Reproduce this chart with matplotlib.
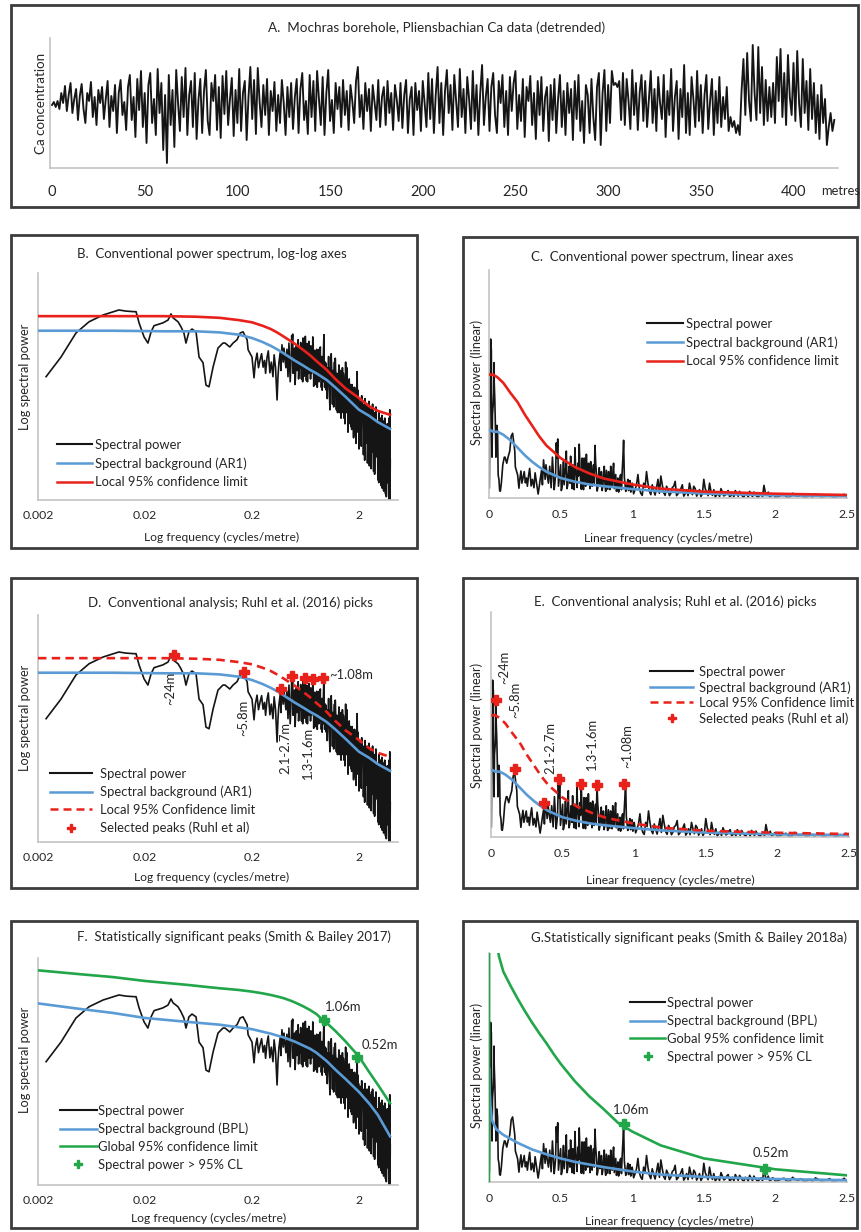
import numpy as np
import matplotlib
matplotlib.use('Agg')
import matplotlib.pyplot as plt
from matplotlib.patches import Rectangle
from matplotlib.lines import Line2D
from matplotlib.ticker import NullLocator

plt.rcParams['font.family'] = ['Lato', 'DejaVu Sans']

# ---------------- DATA ----------------
# Panel A: detrended Ca concentration (arbitrary units), sampled every 1 m
ca_step_m = 1.0
ca_values = [
    0.0, 0.3, -0.2, 0.4, -0.4, 1.2, 0.2, 1.9, -0.6, 1.0,
    2.2, -0.8, 0.6, 1.6, -1.5, 0.9, 2.1, -0.4, -1.8, 1.2,
    0.4, 2.3, -1.2, 0.8, -2.0, 1.5, 0.2, 1.8, -1.4, 0.6,
    2.4, -2.2, 0.9, -0.6, 2.0, -2.8, 1.2, 2.5, -1.0, 0.3,
    -2.5, 1.8, 3.0, -1.5, 0.8, -3.2, 2.6, -0.5, 3.4, -2.2,
    1.2, -3.8, 2.0, 3.2, -1.8, 0.6, -3.0, 3.6, -0.8, 2.2,
    -4.5, 1.0, -5.8, 3.0, -2.0, 1.5, -4.2, 3.5, 0.2, -2.6,
    2.8, -1.2, 3.7, -3.0, 1.0, 2.4, -2.2, 3.2, -3.4, 0.5,
    2.6, -2.8, 1.4, 3.5, -1.6, -3.0, 2.2, 0.4, 3.0, -2.5,
    1.8, -3.3, 2.9, -0.9, 3.4, -2.0, 0.6, 2.7, -3.1, 1.5,
    -1.8, 3.6, -2.6, 1.2, 2.4, -3.5, 0.8, 3.8, -1.4, 2.5,
    -2.9, 3.7, 0.3, -2.2, 2.0, -1.0, 2.6, -3.0, 1.4, -0.6,
    2.3, -2.6, 1.0, -1.8, 2.5, 0.2, -3.0, 1.8, -1.2, 2.2,
    -2.4, 0.8, 2.6, -2.8, 1.6, 3.2, -1.5, 0.4, -2.9, 3.0,
    -1.2, 2.4, -2.6, 3.4, 0.6, -2.0, 2.8, -3.0, 1.2, 3.5,
    -1.6, 0.5, -2.8, 2.2, -0.4, 1.8, -2.2, 2.5, -1.0, 1.4,
    -2.5, 2.0, 0.4, -1.8, 2.4, 3.8, -1.2, 1.0, -2.4, 2.2,
    -0.6, 1.6, -2.6, 2.0, 0.2, -1.5, 2.5, -2.2, 0.8, 1.8,
    -2.0, 2.4, -0.8, 1.2, -2.5, 2.0, 0.5, -1.6, 2.2, -2.3,
    1.0, 2.5, -2.8, 0.6, 1.8, -3.0, 2.2, -0.5, 1.4, -2.6,
    2.4, 0.2, -2.2, 3.2, -1.4, 2.6, -2.8, 1.0, 3.8, -1.8,
    2.2, -3.0, 1.4, 3.5, -0.8, 2.0, -2.5, 3.0, 0.4, -2.2,
    3.6, -1.2, 1.6, -2.8, 2.8, 0.6, -2.4, 3.4, -1.6, 2.0,
    -3.0, 1.2, 4.0, -2.0, 0.8, 2.6, -2.6, 1.8, 3.2, -1.0,
    -2.8, 2.4, 0.2, 3.0, -2.2, 1.4, -3.0, 2.8, -0.6, 2.2,
    3.4, -2.4, 1.0, -1.6, 2.6, -3.2, 1.8, 0.4, 2.9, -2.0,
    1.2, -3.4, 2.4, -1.0, 2.8, -2.6, 0.8, 1.8, -3.6, 2.0,
    -1.5, 2.6, -2.8, 0.6, 3.0, -2.2, 1.4, -3.0, 2.2, -0.8,
    1.6, -3.5, 2.4, -1.4, 3.0, -2.6, 0.4, -3.8, 2.0, 1.0,
    -2.8, 2.6, -1.2, -3.5, 1.8, 3.2, -4.0, 1.2, 3.5, -2.6,
    2.0, -1.8, 3.4, 2.0, 2.2, 1.8, 2.4, -1.5, 3.2, -2.0,
    2.6, 0.4, -2.4, 3.5, -1.0, 2.2, -2.5, 1.2, 3.0, -1.6,
    2.4, -2.2, 0.6, 3.4, -1.8, 1.6, -2.6, 2.8, 0.2, -1.4,
    3.0, -3.2, 1.4, -1.0, 3.6, -2.6, 0.8, 2.4, -3.4, 1.6,
    -1.2, 4.0, -2.8, 1.2, -3.0, 2.8, 0.6, -2.2, 3.4, -1.6,
    2.0, -2.8, 1.0, 3.0, -2.4, 0.4, 2.6, -3.0, 1.4, -1.8,
    2.8, -2.2, 0.8, -1.4, 1.8, -2.6, -1.2, -2.2, -1.6, -2.8,
    -2.0, -3.0, 1.5, 4.6, -1.0, 5.2, 0.4, -1.6, 6.0, 1.2,
    -1.5, 5.8, -0.8, 3.8, -2.0, 2.5, -1.6, 1.8, -1.2, 2.2,
    -1.8, 4.8, 0.4, 5.6, -1.2, 3.2, -2.0, 5.0, 0.8, -1.0,
    4.2, -1.6, 5.4, 0.2, -2.2, 4.6, -0.8, 2.4, -2.5, 3.6,
    -1.4, 2.2, -2.8, 1.0, -3.4, 2.0, -1.8, 0.6, -4.0, -2.2,
    -0.8, -2.6, -1.5]

# Spectrum: frequency (cycles/metre) and log10 spectral power (relative)
spec_freq = [
    0.00238, 0.00328, 0.00453, 0.0060, 0.0081, 0.0114, 0.0133, 0.0158, 0.0165, 0.0176,
    0.0196, 0.0213, 0.0228, 0.0243, 0.0294, 0.0328, 0.0350, 0.0366, 0.0407, 0.0434,
    0.0462, 0.0483, 0.0515, 0.0550, 0.0600, 0.0640, 0.0697, 0.0743, 0.0793, 0.0865,
    0.0962, 0.107, 0.112, 0.124, 0.133, 0.145, 0.155, 0.165, 0.180, 0.184,
    0.200, 0.209, 0.215, 0.223, 0.230, 0.238, 0.246, 0.254, 0.262, 0.268,
    0.276, 0.284, 0.294, 0.303, 0.314, 0.322, 0.332, 0.343, 0.350, 0.357,
    0.367, 0.373, 0.381, 0.392, 0.398, 0.406, 0.415, 0.424, 0.434, 0.443,
    0.46, 0.47, 0.48, 0.49, 0.50, 0.51, 0.52, 0.53, 0.54, 0.55,
    0.56, 0.57, 0.58, 0.59, 0.60, 0.61, 0.62, 0.63, 0.64, 0.65,
    0.66, 0.67, 0.68, 0.69, 0.70, 0.71, 0.72, 0.73, 0.74, 0.75,
    0.76, 0.77, 0.78, 0.79, 0.80, 0.81, 0.82, 0.83, 0.84, 0.85,
    0.86, 0.87, 0.88, 0.89, 0.90, 0.91, 0.92, 0.93, 0.94, 0.95,
    0.96, 0.97, 0.98, 0.99, 1.00,
    1.02, 1.04, 1.06, 1.08, 1.10, 1.12, 1.14, 1.16, 1.18, 1.20,
    1.22, 1.24, 1.26, 1.28, 1.30, 1.32, 1.34, 1.36, 1.38, 1.40,
    1.42, 1.44, 1.46, 1.48, 1.50, 1.52, 1.54, 1.56, 1.58, 1.60,
    1.62, 1.64, 1.66, 1.68, 1.70, 1.72, 1.74, 1.76, 1.78, 1.80,
    1.82, 1.84, 1.86, 1.88, 1.90, 1.92, 1.94, 1.96, 1.98, 2.00,
    2.04, 2.08, 2.12, 2.16, 2.20, 2.24, 2.28, 2.32, 2.36, 2.40,
    2.44, 2.48, 2.52, 2.56, 2.60, 2.64, 2.68, 2.72, 2.76, 2.80,
    2.84, 2.88, 2.92, 2.96, 3.00, 3.04, 3.08, 3.12, 3.16, 3.20,
    3.24, 3.28, 3.32, 3.36, 3.40, 3.44, 3.48, 3.52, 3.56, 3.60,
    3.64, 3.68, 3.72, 3.76, 3.80, 3.84, 3.88, 3.92]
spec_logp = [
    -1.21, -0.86, -0.43, -0.23, -0.11, -0.02, -0.04, -0.05, -0.05, -0.25,
    -0.50, -0.61, -0.41, -0.30, -0.25, -0.20, -0.09, -0.16, -0.23, -0.32,
    -0.43, -0.61, -0.41, -0.36, -0.41, -0.86, -0.96, -1.36, -1.39, -1.04,
    -0.70, -0.61, -0.61, -0.68, -0.61, -0.55, -0.43, -0.41, -0.55, -0.73,
    -0.86, -1.23, -0.95, -0.79, -1.05, -0.91, -0.80, -1.04, -0.92, -1.15,
    -0.875, -0.75, -1.14, -0.95, -1.21, -0.82, -1.05, -1.625, -1.20, -0.96,
    -0.78, -1.10, -0.64, -0.95, -0.70, -0.86, -1.05, -0.72, -1.21, -0.61,
    -1.05, -0.48, -0.45, -0.95, -0.70, -1.20, -0.66, -0.88, -0.55, -1.10,
    -0.72, -0.60, -1.25, -0.78, -0.52, -0.90, -0.68, -0.49, -0.98, -0.62,
    -1.30, -0.75, -0.58, -1.05, -0.80, -0.66, -1.15, -0.70, -0.50, -0.82,
    -1.20, -0.74, -0.95, -1.35, -0.85, -1.10, -0.78, -1.28, -0.90, -0.72,
    -1.15, -0.68, -1.00, -1.40, -0.92, -1.18, -0.85, -0.80, -0.46, -1.10,
    -1.30, -0.95, -1.15, -1.45, -1.05,
    -1.30, -0.85, -1.55, -1.05, -0.80, -1.40, -1.10, -1.75, -0.95, -0.88,
    -1.50, -1.15, -1.85, -1.20, -1.00, -1.60, -1.25, -1.95, -1.30, -1.05,
    -1.70, -1.25, -1.55, -2.05, -0.95, -1.45, -1.05, -1.80, -2.20, -1.50,
    -1.25, -1.90, -1.45, -2.10, -1.55, -1.35, -2.00, -1.60, -2.30, -1.65,
    -1.40, -2.10, -1.70, -2.40, -1.60, -1.12, -1.80, -2.20, -1.60, -2.50,
    -1.75, -2.30, -1.55, -2.00, -2.60, -1.80, -1.60, -2.40, -1.90, -2.75,
    -1.85, -1.65, -2.35, -2.00, -2.85, -1.90, -1.70, -2.50, -2.10, -2.95,
    -2.00, -1.75, -2.60, -2.20, -3.05, -2.10, -1.85, -2.70, -2.30, -3.15,
    -2.15, -1.90, -2.80, -2.40, -3.25, -2.25, -1.95, -2.90, -2.50, -3.35,
    -2.30, -2.05, -3.00, -2.60, -3.40, -2.40, -1.80, -2.70]
# additional spectral estimates lying between the ones above (dense band)
spec_freq_mid = [
    0.455, 0.465, 0.475, 0.485, 0.495, 0.505, 0.515, 0.525, 0.535, 0.545,
    0.555, 0.565, 0.575, 0.585, 0.595, 0.605, 0.615, 0.625, 0.635, 0.645,
    0.655, 0.665, 0.675, 0.685, 0.695, 0.705, 0.715, 0.725, 0.735, 0.745,
    0.755, 0.765, 0.775, 0.785, 0.795, 0.805, 0.815, 0.825, 0.835, 0.845,
    0.855, 0.865, 0.875, 0.885, 0.895, 0.905, 0.915, 0.925, 0.935, 0.945,
    0.955, 0.965, 0.975, 0.985, 0.995,
    1.01, 1.03, 1.05, 1.07, 1.09, 1.11, 1.13, 1.15, 1.17, 1.19,
    1.21, 1.23, 1.25, 1.27, 1.29, 1.31, 1.33, 1.35, 1.37, 1.39,
    1.41, 1.43, 1.45, 1.47, 1.49, 1.51, 1.53, 1.55, 1.57, 1.59,
    1.61, 1.63, 1.65, 1.67, 1.69, 1.71, 1.73, 1.75, 1.77, 1.79,
    1.81, 1.83, 1.85, 1.87, 1.89, 1.91, 1.93, 1.95, 1.97, 1.99,
    2.02, 2.06, 2.10, 2.14, 2.18, 2.22, 2.26, 2.30, 2.34, 2.38,
    2.42, 2.46, 2.50, 2.54, 2.58, 2.62, 2.66, 2.70, 2.74, 2.78,
    2.82, 2.86, 2.90, 2.94, 2.98, 3.02, 3.06, 3.10, 3.14, 3.18,
    3.22, 3.26, 3.30, 3.34, 3.38, 3.42, 3.46, 3.50, 3.54, 3.58,
    3.62, 3.66, 3.70, 3.74, 3.78, 3.82, 3.86, 3.90]
spec_logp_mid = [
    -1.30, -0.85, -0.62, -1.15, -0.80, -1.35, -0.90, -1.10, -0.72, -1.25,
    -0.85, -1.05, -0.95, -0.70, -1.30, -0.75, -1.20, -0.88, -0.72, -1.28,
    -0.90, -0.62, -1.15, -0.85, -0.68, -1.25, -0.95, -0.78, -1.05, -0.68,
    -1.38, -0.88, -1.10, -0.80, -1.15, -0.72, -1.40, -0.95, -0.80, -1.30,
    -0.98, -0.82, -1.25, -0.85, -1.20, -1.45, -0.88, -1.30, -0.62, -0.90,
    -1.40, -1.05, -1.35, -0.98, -1.25,
    -1.60, -1.10, -1.25, -1.80, -1.20, -1.05, -1.70, -1.35, -1.20, -1.55,
    -1.10, -1.80, -1.30, -1.55, -1.15, -1.85, -1.40, -1.10, -1.60, -1.85,
    -1.30, -1.15, -1.95, -1.30, -1.60, -1.25, -1.85, -1.40, -1.30, -1.75,
    -2.05, -1.45, -1.75, -1.35, -1.85, -2.15, -1.55, -1.40, -1.95, -1.55,
    -2.25, -1.60, -1.45, -2.00, -1.75, -2.10, -1.50, -1.45, -1.90, -1.70,
    -2.10, -1.65, -2.45, -1.85, -1.70, -2.20, -2.70, -1.85, -2.10, -1.70,
    -2.40, -2.05, -2.80, -1.80, -2.25, -1.75, -2.55, -2.00, -2.90, -1.85,
    -2.35, -2.65, -1.90, -2.45, -2.05, -2.55, -3.10, -2.00, -2.45, -1.95,
    -2.85, -2.35, -3.20, -2.05, -2.60, -2.00, -2.95, -2.40, -3.30, -2.10,
    -2.70, -2.15, -3.10, -2.35, -2.80, -1.95, -3.00, -3.40]

# AR1 background and local 95% confidence limit (log10 power)
ar1_freq = [0.002, 0.01, 0.03, 0.06, 0.1, 0.15, 0.2, 0.25, 0.3, 0.35, 0.4,
            0.5, 0.6, 0.7, 0.8, 1.0, 1.2, 1.5, 2.0, 2.5, 3.0, 3.9]
ar1_logp = [-0.39, -0.39, -0.40, -0.40, -0.42, -0.46, -0.52, -0.59, -0.66, -0.73, -0.80,
            -0.92, -1.01, -1.09, -1.15, -1.27, -1.40, -1.57, -1.80, -1.91, -2.02, -2.14]
local_cl_logp = [-0.13, -0.13, -0.13, -0.14, -0.16, -0.20, -0.24, -0.30, -0.36, -0.43, -0.50,
                 -0.62, -0.73, -0.83, -0.93, -1.09, -1.25, -1.42, -1.59, -1.74, -1.82, -1.89]

# Bending power law background and global 95% confidence limit
bpl_freq = [0.002, 0.005, 0.01, 0.02, 0.05, 0.1, 0.2, 0.3, 0.4, 0.5, 0.6, 0.7, 0.8,
            1.0, 1.2, 1.5, 2.0, 2.5, 3.0, 3.9]
bpl_logp = [-0.17, -0.27, -0.34, -0.43, -0.50, -0.55, -0.63, -0.71, -0.78, -0.85, -0.92,
            -0.98, -1.05, -1.20, -1.35, -1.52, -1.75, -1.96, -2.16, -2.54]
gcl_freq = [0.002, 0.005, 0.01, 0.02, 0.05, 0.07, 0.1, 0.15, 0.2, 0.25, 0.3, 0.35, 0.4,
            0.45, 0.5, 0.6, 0.7, 0.8, 0.9, 1.0, 1.2, 1.5, 2.0, 2.5, 3.0, 3.9]
gcl_logp = [0.42, 0.35, 0.30, 0.23, 0.16, 0.13, 0.10, 0.07, 0.04, 0.01, -0.02, -0.05,
            -0.08, -0.115, -0.15, -0.22, -0.29, -0.36, -0.45, -0.52, -0.66, -0.85,
            -1.12, -1.40, -1.62, -1.95]
gcl_lin_at_zero = 0.0   # linear panel G: limit drawn from zero at f = 0

# Ruhl et al. (2016) picks and Smith & Bailey significant peaks
ruhl_freq = [0.037, 0.17, 0.37, 0.475, 0.63, 0.74, 0.93]
ruhl_logp = [-0.08, -0.38, -0.68, -0.45, -0.49, -0.50, -0.49]
sig_freq = [0.94, 1.93]
sig_logp = [-0.46, -1.12]

log_ticks = [0.002, 0.02, 0.2, 2]
log_ticklabels = ['0.002', '0.02', '0.2', '2']
lin_ticks = [0, 0.5, 1, 1.5, 2, 2.5]
lin_ticklabels = ['0', '0.5', '1', '1.5', '2', '2.5']
depth_ticks = [0, 50, 100, 150, 200, 250, 300, 350, 400]

# ---------------- STYLE ----------------
BLACK = '#151515'
BLUE = '#5b9bd5'
RED = '#e8221b'
GREEN = '#22a64a'
SPINE = '#c4c4c4'
BOXC = '#3c3c3c'
TXT = '#262626'

FS_TITLE = 9.5
FS_LEG = 9.4
FS_TICK = 8.8
FS_XLAB = 8.7
FS_YLAB = 9.2
FS_ANN = 9.4

W, H = 861, 1232
fig = plt.figure(figsize=(W / 100, H / 100), dpi=100)


def fx(x):
    return x / W


def fy(y):
    return 1 - y / H


def add_axes(l, t, r, b):
    ax = fig.add_axes([fx(l), fy(b), (r - l) / W, (b - t) / H])
    for s in ('top', 'right'):
        ax.spines[s].set_visible(False)
    for s in ('left', 'bottom'):
        ax.spines[s].set_color(SPINE)
        ax.spines[s].set_linewidth(1.2)
    ax.tick_params(length=0, colors=TXT)
    ax.set_yticks([])
    ax.patch.set_alpha(0)
    return ax


def box(l, t, r, b):
    fig.patches.append(Rectangle((fx(l), fy(b)), (r - l) / W, (b - t) / H,
                                 transform=fig.transFigure, fill=False,
                                 edgecolor=BOXC, linewidth=2.0))


def ftext(x, y, s, size=FS_TITLE, **kw):
    kw.setdefault('ha', 'center')
    kw.setdefault('va', 'center')
    fig.text(fx(x), fy(y), s, fontsize=size, color=TXT, **kw)


def place_legend(ax, handles, labels, x0, yc, hl, htp, ls, fs=FS_LEG):
    fs_px = fs * 100 / 72
    top = yc - 0.48 * fs_px
    ax.legend(handles, labels, loc='upper left',
              bbox_to_anchor=(fx(x0), fy(top)), bbox_transform=fig.transFigure,
              frameon=False, fontsize=fs, handlelength=hl, handletextpad=htp,
              labelspacing=ls, borderpad=0, borderaxespad=0, labelcolor=TXT)


_f = np.array(spec_freq + spec_freq_mid)
_p = np.array(spec_logp + spec_logp_mid)
_o = np.argsort(_f)
sf = _f[_o]
sp = _p[_o]
SCALE_LIN = 1.37


def log_axes(l, t, r, b):
    ax = add_axes(l, t, r, b)
    ax.set_xscale('log')
    ax.set_xlim(0.002, 4.63)
    ax.set_ylim(-3.41, 0.64)
    ax.set_xticks(log_ticks)
    ax.set_xticklabels(log_ticklabels, fontsize=FS_TICK)
    ax.xaxis.set_minor_locator(NullLocator())
    ax.tick_params(axis='x', pad=7)
    return ax


def lin_axes(l, t, r, b):
    ax = add_axes(l, t, r, b)
    ax.set_xlim(0, 2.5)
    ax.set_ylim(0, SCALE_LIN)
    ax.set_xticks(lin_ticks)
    ax.set_xticklabels(lin_ticklabels, fontsize=FS_TICK)
    ax.tick_params(axis='x', pad=8)
    return ax


def lin(v):
    return 10 ** np.array(v, dtype=float)


LW_SPEC = 1.2
LW_CURVE = 1.9

# ---------------- PANEL A ----------------
box(11, 5, 858, 207)
axA = add_axes(50, 38, 838, 168)
depth = np.arange(len(ca_values)) * ca_step_m
axA.plot(depth, ca_values, color=BLACK, lw=1.35)
axA.set_xlim(-1.08, 424)
axA.set_ylim(-6.3, 6.7)
axA.set_xticks(depth_ticks)
axA.set_xticklabels([str(t) for t in depth_ticks], fontsize=10.5)
axA.tick_params(axis='x', pad=12)
ftext(437, 28, 'A.  Mochras borehole, Pliensbachian Ca data (detrended)', 9.7)
ftext(41, 103, 'Ca concentration', 9.6, rotation=90)
ftext(821, 191, 'metres', 9.3, ha='left')

# ---------------- PANEL B ----------------
box(11, 235, 417, 548)
axB = log_axes(38, 273, 398, 500)
axB.plot(sf, sp, color=BLACK, lw=LW_SPEC, zorder=2)
axB.plot(ar1_freq, ar1_logp, color=BLUE, lw=LW_CURVE, zorder=3)
axB.plot(ar1_freq, local_cl_logp, color=RED, lw=LW_CURVE, zorder=3)
ftext(212, 254, 'B.  Conventional power spectrum, log-log axes')
ftext(222, 537, 'Log frequency (cycles/metre)', FS_XLAB)
ftext(25, 377, 'Log spectral power', FS_YLAB, rotation=90)
place_legend(axB, [Line2D([], [], color=BLACK, lw=1.5), Line2D([], [], color=BLUE, lw=1.8),
                   Line2D([], [], color=RED, lw=1.8)],
             ['Spectral power', 'Spectral background (AR1)', 'Local 95% confidence limit'],
             57, 445, 2.7, 0.22, 0.5)

# ---------------- PANEL C ----------------
box(463, 237, 857, 548)
axC = lin_axes(489, 270, 847, 498)
axC.plot(sf, lin(sp), color=BLACK, lw=LW_SPEC, zorder=2)
axC.plot(ar1_freq, lin(ar1_logp), color=BLUE, lw=LW_CURVE, zorder=3)
axC.plot(ar1_freq, lin(local_cl_logp), color=RED, lw=LW_CURVE, zorder=3)
ftext(662, 257, 'C.  Conventional power spectrum, linear axes')
ftext(668, 538, 'Linear frequency (cycles/metre)', FS_XLAB)
ftext(477, 382, 'Spectral power (linear)', FS_YLAB, rotation=90)
place_legend(axC, [Line2D([], [], color=BLACK, lw=1.5), Line2D([], [], color=BLUE, lw=1.8),
                   Line2D([], [], color=RED, lw=1.8)],
             ['Spectral power', 'Spectral background (AR1)', 'Local 95% confidence limit'],
             647, 324, 2.75, 0.22, 0.5)

# ---------------- PANEL D ----------------
DASH = (0, (3.2, 2.0))
box(11, 578, 417, 888)
axD = log_axes(38, 615, 398, 842)
axD.plot(sf, sp, color=BLACK, lw=LW_SPEC, zorder=2)
axD.plot(ar1_freq, ar1_logp, color=BLUE, lw=LW_CURVE, zorder=3)
axD.plot(ar1_freq, local_cl_logp, color=RED, lw=LW_CURVE, ls=DASH, zorder=3)
axD.plot(ruhl_freq, ruhl_logp, ls='none', marker='P', ms=7, color=RED, mec=RED, zorder=4)
ftext(230, 603, 'D.  Conventional analysis; Ruhl et al. (2016) picks')
ftext(212, 877, 'Log frequency (cycles/metre)', FS_XLAB)
ftext(25, 718, 'Log spectral power', FS_YLAB, rotation=90)
ftext(170, 688, '~24m', FS_ANN, rotation=90)
ftext(243, 718, '~5.8m', FS_ANN, rotation=90)
ftext(285, 748, '2.1-2.7m', FS_ANN, rotation=90)
ftext(308, 753, '1.3-1.6m', FS_ANN, rotation=90)
ftext(329, 675, '~1.08m', FS_ANN, ha='left')
place_legend(axD, [Line2D([], [], color=BLACK, lw=1.5), Line2D([], [], color=BLUE, lw=1.8),
                   Line2D([], [], color=RED, lw=1.8, ls=DASH),
                   Line2D([], [], color=RED, ls='none', marker='P', ms=6)],
             ['Spectral power', 'Spectral background (AR1)', 'Local 95% Confidence limit',
              'Selected peaks (Ruhl et al)'],
             50, 774, 3.2, 0.6, 0.45)

# ---------------- PANEL E ----------------
box(463, 578, 857, 888)
axE = lin_axes(491, 612, 849, 837)
axE.plot(sf, lin(sp), color=BLACK, lw=LW_SPEC, zorder=2)
axE.plot(ar1_freq, lin(ar1_logp), color=BLUE, lw=LW_CURVE, zorder=3)
axE.plot(ar1_freq, lin(local_cl_logp), color=RED, lw=LW_CURVE, ls=DASH, zorder=3)
axE.plot(ruhl_freq, lin(ruhl_logp), ls='none', marker='P', ms=7, color=RED, mec=RED, zorder=4)
ftext(675, 602, 'E.  Conventional analysis; Ruhl et al. (2016) picks')
ftext(670, 880, 'Linear frequency (cycles/metre)', FS_XLAB)
ftext(477, 725, 'Spectral power (linear)', FS_YLAB, rotation=90)
ftext(504, 667, '~24m', FS_ANN, rotation=90)
ftext(515, 700, '~5.8m', FS_ANN, rotation=90)
ftext(550, 748, '2.1-2.7m', FS_ANN, rotation=90)
ftext(592, 744, '1.3-1.6m', FS_ANN, rotation=90)
ftext(627, 746, '~1.08m', FS_ANN, rotation=90)
place_legend(axE, [Line2D([], [], color=BLACK, lw=1.5), Line2D([], [], color=BLUE, lw=1.8),
                   Line2D([], [], color=RED, lw=1.8, ls=DASH),
                   Line2D([], [], color=RED, ls='none', marker='P', ms=6)],
             ['Spectral power', 'Spectral background (AR1)', 'Local 95% Confidence limit',
              'Selected peaks (Ruhl et al)'],
             650, 672, 3.3, 0.45, 0.25)

# ---------------- PANEL F ----------------
box(11, 921, 417, 1228)
axF = log_axes(38, 958, 398, 1185)
axF.plot(sf, sp, color=BLACK, lw=LW_SPEC, zorder=2)
axF.plot(bpl_freq, bpl_logp, color=BLUE, lw=LW_CURVE, zorder=3)
axF.plot(gcl_freq, gcl_logp, color=GREEN, lw=LW_CURVE, zorder=3)
axF.plot(sig_freq, sig_logp, ls='none', marker='P', ms=7, color=GREEN, mec=GREEN, zorder=4)
ftext(234, 937, 'F.  Statistically significant peaks (Smith & Bailey 2017)')
ftext(209, 1218, 'Log frequency (cycles/metre)', FS_XLAB)
ftext(25, 1060, 'Log spectral power', FS_YLAB, rotation=90)
ftext(325, 1007, '1.06m', FS_ANN, ha='left')
ftext(362, 1045, '0.52m', FS_ANN, ha='left')
place_legend(axF, [Line2D([], [], color=BLACK, lw=1.5), Line2D([], [], color=BLUE, lw=1.8),
                   Line2D([], [], color=GREEN, lw=1.8),
                   Line2D([], [], color=GREEN, ls='none', marker='P', ms=6)],
             ['Spectral power', 'Spectral background (BPL)', 'Global 95% confidence limit',
              'Spectral power > 95% CL'],
             60, 1111, 2.8, 0.1, 0.45)

# ---------------- PANEL G ----------------
box(463, 921, 857, 1228)
axG = lin_axes(489, 953, 847, 1182)
axG.plot(sf, lin(sp), color=BLACK, lw=LW_SPEC, zorder=2)
axG.plot(bpl_freq, lin(bpl_logp), color=BLUE, lw=LW_CURVE, zorder=3)
g_f = np.concatenate([[0.0], gcl_freq])
g_lin = np.concatenate([[gcl_lin_at_zero], lin(gcl_logp)])
axG.plot(g_f, g_lin, color=GREEN, lw=LW_CURVE, zorder=3)
axG.plot(sig_freq, lin(sig_logp), ls='none', marker='P', ms=7, color=GREEN, mec=GREEN, zorder=4)
ftext(689, 938, 'G.Statistically significant peaks (Smith & Bailey 2018a)')
ftext(669, 1221, 'Linear frequency (cycles/metre)', FS_XLAB)
ftext(477, 1065, 'Spectral power (linear)', FS_YLAB, rotation=90)
ftext(631, 1110, '1.06m', FS_ANN)
ftext(771, 1153, '0.52m', FS_ANN)
place_legend(axG, [Line2D([], [], color=BLACK, lw=1.5), Line2D([], [], color=BLUE, lw=1.8),
                   Line2D([], [], color=GREEN, lw=1.8),
                   Line2D([], [], color=GREEN, ls='none', marker='P', ms=6)],
             ['Spectral power', 'Spectral background (BPL)', 'Gobal 95% confidence limit',
              'Spectral power > 95% CL'],
             630, 1003, 2.7, 0.15, 0.45)

fig.savefig('out.png', dpi=100)
